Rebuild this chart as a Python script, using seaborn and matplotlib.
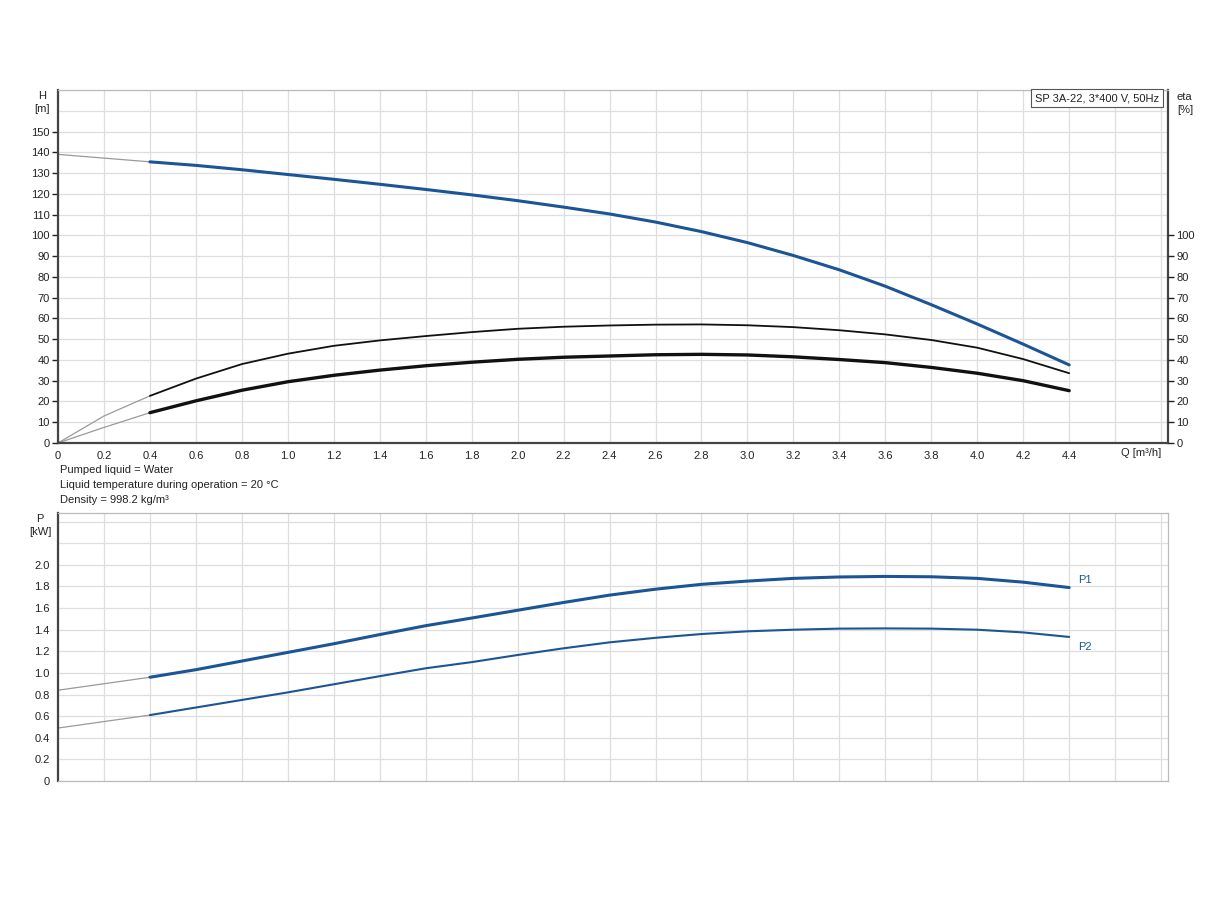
import matplotlib
matplotlib.use("Agg")
import matplotlib.pyplot as plt
import seaborn as sns
import numpy as np

sns.set_style("white")
plt.rcParams['font.family'] = ['Liberation Sans', 'DejaVu Sans']

# ---- data ----
q_main = [0.4, 0.6, 0.8, 1.0, 1.2, 1.4, 1.6, 1.8, 2.0, 2.2, 2.4,
          2.6, 2.8, 3.0, 3.2, 3.4, 3.6, 3.8, 4.0, 4.2, 4.4]
q_ext = [0.0, 0.2, 0.4]

h_main = [135.4, 133.7, 131.6, 129.3, 127.0, 124.6, 122.1, 119.5, 116.7, 113.6, 110.3,
          106.4, 101.8, 96.5, 90.3, 83.4, 75.5, 66.6, 57.3, 47.6, 37.6]
h_ext = [139.0, 137.2, 135.4]

eta_hyd = [22.7, 31.0, 38.0, 43.0, 46.8, 49.4, 51.5, 53.4, 55.0, 56.0, 56.6,
           57.0, 57.1, 56.7, 55.8, 54.3, 52.3, 49.6, 45.9, 40.4, 33.6]
eta_hyd_ext = [0.0, 13.0, 22.7]
eta_tot = [14.6, 20.3, 25.4, 29.5, 32.6, 35.1, 37.2, 38.9, 40.3, 41.3, 41.9,
           42.5, 42.7, 42.4, 41.5, 40.2, 38.7, 36.4, 33.6, 30.0, 25.2]
eta_tot_ext = [0.0, 7.5, 14.6]

p1_main = [0.96, 1.03, 1.11, 1.19, 1.27, 1.355, 1.437, 1.508, 1.58, 1.652, 1.72,
           1.775, 1.82, 1.85, 1.875, 1.888, 1.893, 1.89, 1.875, 1.84, 1.79]
p1_ext = [0.84, 0.90, 0.96]
p2_main = [0.61, 0.68, 0.75, 0.82, 0.895, 0.97, 1.043, 1.10, 1.166, 1.228, 1.283,
           1.325, 1.36, 1.385, 1.40, 1.41, 1.412, 1.41, 1.40, 1.375, 1.333]
p2_ext = [0.49, 0.55, 0.61]

x_ticks = [0, 0.2, 0.4, 0.6, 0.8, 1.0, 1.2, 1.4, 1.6, 1.8, 2.0, 2.2, 2.4, 2.6, 2.8,
           3.0, 3.2, 3.4, 3.6, 3.8, 4.0, 4.2, 4.4]
x_tick_labels = ["0", "0.2", "0.4", "0.6", "0.8", "1.0", "1.2", "1.4", "1.6", "1.8",
                 "2.0", "2.2", "2.4", "2.6", "2.8", "3.0", "3.2", "3.4", "3.6", "3.8",
                 "4.0", "4.2", "4.4"]
h_ticks = [0, 10, 20, 30, 40, 50, 60, 70, 80, 90, 100, 110, 120, 130, 140, 150]
eta_ticks = [0, 10, 20, 30, 40, 50, 60, 70, 80, 90, 100]
p_ticks = [0, 0.2, 0.4, 0.6, 0.8, 1.0, 1.2, 1.4, 1.6, 1.8, 2.0]
p_tick_labels = ["0", "0.2", "0.4", "0.6", "0.8", "1.0", "1.2", "1.4", "1.6", "1.8", "2.0"]

title_text = "SP 3A-22, 3*400 V, 50Hz"
notes = ["Pumped liquid = Water",
         "Liquid temperature during operation = 20 °C",
         "Density = 998.2 kg/m³"]

BLUE = "#1b5595"
GRID = "#dedede"
DARK = "#444444"
EXT = "#9a9a9a"
FS = 8

W, H = 1224, 900
fig = plt.figure(figsize=(W / 100, H / 100), dpi=100)


def rect(l, t, r, b):
    return [l / W, 1 - b / H, (r - l) / W, (b - t) / H]


XMAX = 4.83
ax1 = fig.add_axes(rect(58, 90, 1168, 443))
ax2 = fig.add_axes(rect(58, 513, 1168, 781))

grid_x = np.arange(0, 4.81, 0.2)


def style(ax, ylim, grid_y):
    ax.set_xlim(0, XMAX)
    ax.set_ylim(*ylim)
    for gx in grid_x:
        ax.axvline(gx, color=GRID, lw=0.9, zorder=0)
    for gy in grid_y:
        ax.axhline(gy, color=GRID, lw=0.9, zorder=0)
    for s in ax.spines.values():
        s.set_color("#bbbbbb")
        s.set_linewidth(0.9)
    ax.spines['left'].set_color(DARK)
    ax.spines['left'].set_linewidth(1.6)
    ax.tick_params(axis='both', labelsize=FS, colors="#222222", length=4, width=1, pad=2)


def draw(ax, qx, y, color, lw):
    sns.lineplot(x=qx, y=y, ax=ax, color=color, lw=lw, sort=False, estimator=None,
                 legend=False)


# ---------- top ----------
style(ax1, (0, 170), np.arange(0, 171, 10))
ax1.spines['bottom'].set_color(DARK)
ax1.spines['bottom'].set_linewidth(1.6)
ax1.spines['right'].set_color(DARK)
ax1.spines['right'].set_linewidth(1.6)

draw(ax1, q_ext, h_ext, EXT, 0.9)
draw(ax1, q_main, h_main, BLUE, 2.2)
draw(ax1, q_ext, eta_hyd_ext, EXT, 0.9)
draw(ax1, q_main, eta_hyd, "#111111", 1.3)
draw(ax1, q_ext, eta_tot_ext, EXT, 0.9)
draw(ax1, q_main, eta_tot, "#111111", 2.4)

ax1.set_xticks(x_ticks + [4.6, 4.8])
ax1.set_xticklabels(x_tick_labels + ["", ""])
ax1.set_yticks(h_ticks)
ax1.set_yticklabels([str(t) for t in h_ticks])
ax1.set_xlabel("")
ax1.set_ylabel("")
ax1.text(-0.07, 169.3, "H\n[m]", ha='center', va='top', fontsize=FS, color="#222222",
         linespacing=1.35)
ax1.text(4.8, -2.5, "Q [m³/h]", ha='right', va='top', fontsize=FS, color="#222222")

ax1r = ax1.twinx()
ax1r.set_ylim(0, 170)
ax1r.set_yticks(eta_ticks)
ax1r.set_yticklabels([str(t) for t in eta_ticks])
ax1r.tick_params(axis='y', labelsize=FS, colors="#222222", length=4, width=1, pad=2)
ax1r.tick_params(axis='x', which='both', top=False, bottom=False)
for s in ax1r.spines.values():
    s.set_visible(False)
ax1r.grid(False)
ax1.text(1.008, 0.993, "eta\n[%]", ha='left', va='top', fontsize=FS, color="#222222",
         transform=ax1.transAxes, linespacing=1.35)

ax1.text(4.79, 168.5, title_text, ha='right', va='top', fontsize=FS, color="#222222",
         bbox=dict(boxstyle='square,pad=0.35', fc='white', ec='#555555', lw=0.8))

for i, n in enumerate(notes):
    fig.text(60 / W, 1 - (470 + i * 15) / H, n, fontsize=FS, color="#222222",
             ha='left', va='center')

# ---------- bottom ----------
style(ax2, (0, 2.48), np.arange(0, 2.41, 0.2))
draw(ax2, q_ext, p1_ext, EXT, 0.9)
draw(ax2, q_main, p1_main, BLUE, 2.2)
draw(ax2, q_ext, p2_ext, EXT, 0.9)
draw(ax2, q_main, p2_main, BLUE, 1.5)
ax2.set_xticks([])
ax2.set_yticks(p_ticks + [2.2, 2.4])
ax2.set_yticklabels(p_tick_labels + ["", ""])
ax2.set_xlabel("")
ax2.set_ylabel("")
ax2.text(-0.078, 2.47, "P\n[kW]", ha='center', va='top', fontsize=FS, color="#222222",
         linespacing=1.35)
ax2.text(4.44, p1_main[-1] + 0.07, "P1", fontsize=FS, color=BLUE, ha='left', va='center')
ax2.text(4.44, p2_main[-1] - 0.09, "P2", fontsize=FS, color=BLUE, ha='left', va='center')

fig.savefig("out.png", dpi=100, facecolor='white')
